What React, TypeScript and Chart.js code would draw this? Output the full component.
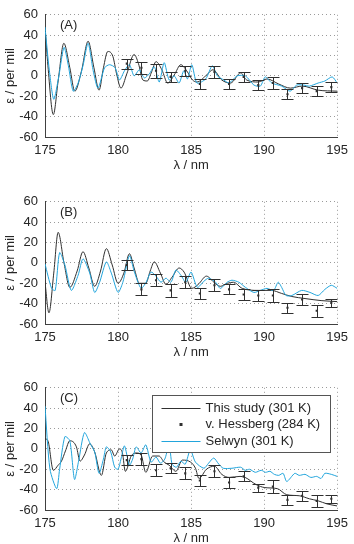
import React, { useEffect, useRef } from "react";
import { Chart, registerables } from "chart.js";

Chart.register(...registerables);

const FONT = "'Liberation Sans', Arial, Helvetica, sans-serif";
const INK = "#262626";
const STUDY_COLOR = "#303030";
const SELWYN_COLOR = "#22a5dc";
const GRID_COLOR = "#9a9a9a";

const X_TICKS = [175, 180, 185, 190, 195];
const Y_TICKS = [-60, -40, -20, 0, 20, 40, 60];
const X_TITLE = "λ / nm";
const Y_TITLE = "ε / per mil";
const LEGEND_LABELS = ["This study (301 K)", "v. Hessberg (284 K)", "Selwyn (301 K)"];
const PANEL_LABELS = ["(A)", "(B)", "(C)"];

// v. Hessberg wavelengths (shared by all panels)
const hessX = [180.6, 181.6, 182.6, 183.6, 184.6, 185.6, 186.6, 187.6, 188.6, 189.6, 190.6, 191.6, 192.6, 193.6, 194.6];

// ---------- Panel A ----------
const aStudyX = [175, 175.2, 175.57, 175.9, 176.29, 176.7, 177.04, 177.5, 177.95, 178.35, 178.7, 179.0, 179.3, 179.65, 179.9, 180.2, 180.6, 181.1, 181.4, 181.7, 182.0, 182.3, 182.6, 183.0, 183.4, 183.85, 184.3, 184.7, 185.1, 185.4, 186.0, 186.5, 187.1, 187.7, 188.4, 188.8, 189.6, 190.2, 191.0, 191.8, 192.6, 193.7, 195];
const aStudyY = [48, 10, -38, -5, 32, 8, -15, 5, 34, 8, -14, 8, 24, 19, 2, -12, 2, 21, 12, -4, -5, 4, 14, 6, -7, 1, 11, 5, -4, -6, 0, 6, -4, -7, 3, -4, -6, -3, -8, -12, -10, -14, -15];
const aSelX = [175, 175.3, 175.6, 175.95, 176.3, 176.6, 176.93, 177.27, 177.6, 177.95, 178.3, 178.63, 179.08, 179.42, 179.8, 180.1, 180.44, 180.78, 181.1, 181.46, 181.8, 182.14, 182.48, 182.82, 183.16, 183.5, 183.84, 184.18, 184.5, 184.75, 185.05, 185.4, 186.0, 186.45, 186.8, 187.24, 187.6, 188.15, 188.72, 189.3, 189.74, 190.08, 190.53, 191.2, 191.78, 192.23, 192.7, 193.1, 193.7, 194.16, 194.66, 195];
const aSelY = [48, 5, -23, 0, 28, 10, -15, -7, 10, 32, 5, -12, 8, 11, 8, -4, 5, 11, 0, 6, -2, 2, 9, -6, 13, -4, 0, -7, 5, -3, 11, -7, -3, 10, 0, -4, -7, 0, 0, -9, -10, -1, -7, -10, -15, -9, -9, -10, -7, -5, -1, -7];
const aHessY = [12, 8, 5, -1, 5, -8, 4, -8, -1, -9, -7, -18, -12, -15, -11];
const aHessErr = [5, 6, 7, 5, 5, 5, 6, 5, 5, 5, 6, 5, 5, 5, 5];

// ---------- Panel B ----------
const bStudyX = [175, 175.27, 175.6, 175.9, 176.3, 176.7, 177.2, 177.6, 178.0, 178.4, 178.8, 179.2, 179.6, 180.0, 180.4, 180.78, 181.1, 181.46, 181.9, 182.2, 182.48, 182.9, 183.28, 183.7, 184.18, 184.52, 185.05, 185.5, 186.05, 186.56, 187.0, 187.5, 187.9, 188.5, 189.6, 190.5, 191.2, 191.9, 192.8, 193.9, 195];
const bStudyY = [-19, -49, -10, 30, 0, -24, -8, 11, -5, -23, -8, 14, -2, -20, -10, 9, -5, -20, -20, -8, 1, -10, -21, -14, -5, -9, -25, -21, -13, -19, -23, -20, -19, -25, -27, -27, -30, -33, -35, -37, -38];
const bSelX = [175, 175.45, 175.7, 176.0, 176.36, 176.8, 177.27, 177.6, 178.06, 178.4, 178.74, 179.2, 179.54, 180.0, 180.33, 180.78, 181.12, 181.58, 181.92, 182.26, 182.6, 182.94, 183.28, 183.62, 183.96, 184.3, 184.64, 185.0, 185.43, 185.88, 186.2, 186.68, 187.0, 187.47, 187.8, 188.27, 188.72, 189.3, 189.74, 190.2, 190.65, 190.96, 191.2, 191.5, 191.9, 192.57, 193.14, 193.7, 194.16, 194.6, 195];
const bSelY = [-1, -25, -27, 10, -2, -27, -12, 4, -10, -29, -19, 1, -10, -29, -19, 7, -9, -25, -19, -9, -13, -19, -15, -19, -7, -12, -19, -9, -24, -18, -15, -19, -25, -19, -17, -19, -24, -29, -27, -25, -27, -19, -24, -32, -32, -27, -29, -32, -26, -22, -25];
const bHessY = [-2, -26, -17, -27, -19, -30, -22, -26, -31, -32, -32, -44, -36, -47, -39];
const bHessErr = [5, 6, 6, 6, 6, 5, 6, 5, 5, 5, 6, 5, 5, 6, 4];

// ---------- Panel C ----------
const cStudyX = [175, 175.2, 175.57, 175.9, 176.13, 176.4, 176.7, 177.15, 177.4, 177.7, 178.06, 178.4, 178.86, 179.2, 179.54, 179.77, 180.1, 180.3, 180.5, 180.9, 181.24, 181.58, 181.9, 182.37, 182.8, 183.16, 183.5, 183.96, 184.4, 184.97, 185.3, 185.54, 186.05, 186.6, 187.1, 187.6, 188.35, 188.7, 189.45, 190.05, 190.9, 191.55, 192.4, 193.1, 193.7, 194.3, 195];
const cStudyY = [10, 8, -21, -16, -12, -2, 8, 2, -12, -6, 5, -3, -26, -4, -1, -7, 0, -4, -22, -7, -4, -6, -23, -7, -7, -13, -16, -22, -11, -13, -19, -29, -20, -17, -25, -28, -27, -28, -35, -38, -39, -45, -46, -49, -51, -54, -56];
const cSelX = [175, 175.34, 175.8, 176.0, 176.36, 176.7, 177.02, 177.3, 177.7, 178.1, 178.4, 178.7, 179.0, 179.2, 179.5, 179.77, 180.0, 180.2, 180.44, 180.78, 181.0, 181.24, 181.58, 181.9, 182.26, 182.6, 182.9, 183.2, 183.5, 183.7, 184.0, 184.3, 184.6, 184.95, 185.3, 185.88, 186.2, 186.55, 186.9, 187.2, 187.8, 188.4, 188.7, 189.0, 189.4, 189.8, 190.1, 190.4, 190.7, 191.0, 191.3, 191.55, 192.1, 192.4, 192.8, 193.2, 193.6, 193.9, 194.16, 194.6, 195];
const cSelY = [42, -20, -39, -20, 12, 8, -30, -12, 16, 5, -3, -24, -10, 2, -3, -18, -20, -10, 3, -16, -10, 2, -4, 4, -13, -8, -14, -10, 4, -15, -18, -12, -15, -1, -13, -19, -14, -9, -15, -19, -19, -18, -21, -20, -23, -21, -23, -22, -25, -26, -24, -32, -24, -26, -25, -28, -27, -29, -24, -25, -27];
const cHessY = [-11, -10, -21, -19, -24, -31, -22, -33, -27, -38, -37, -50, -46, -51, -49];
const cHessErr = [5, 6, 6, 5, 6, 5, 6, 5, 5, 4, 6, 5, 5, 6, 4];

const toPoints = (xs: number[], ys: number[]) => xs.map((x, i) => ({ x, y: ys[i] }));

type PanelProps = {
  label: string;
  studyX: number[];
  studyY: number[];
  selX: number[];
  selY: number[];
  hessY: number[];
  hessErr: number[];
  showLegend: boolean;
  top: number;
};

function Panel(props: PanelProps) {
  const ref = useRef<HTMLCanvasElement | null>(null);
  useEffect(() => {
    const { label, studyX, studyY, selX, selY, hessY, hessErr, showLegend } = props;

    const errorBars = {
      id: "errorBars",
      afterDatasetsDraw(chart: any) {
        const { ctx, scales } = chart;
        const xs = scales.x;
        const ys = scales.y;
        ctx.save();
        ctx.strokeStyle = STUDY_COLOR;
        ctx.lineWidth = 1;
        hessX.forEach((hx, i) => {
          const px = Math.round(xs.getPixelForValue(hx)) + 0.5;
          const pt = Math.round(ys.getPixelForValue(hessY[i] + hessErr[i])) + 0.5;
          const pb = Math.round(ys.getPixelForValue(hessY[i] - hessErr[i])) + 0.5;
          ctx.beginPath();
          ctx.moveTo(px, pt);
          ctx.lineTo(px, pb);
          ctx.moveTo(px - 6, pt);
          ctx.lineTo(px + 6, pt);
          ctx.moveTo(px - 6, pb);
          ctx.lineTo(px + 6, pb);
          ctx.stroke();
        });
        ctx.restore();
      },
    };

    const panelLabel = {
      id: "panelLabel",
      afterDraw(chart: any) {
        const { ctx, chartArea } = chart;
        ctx.save();
        ctx.font = `13px ${FONT}`;
        ctx.fillStyle = INK;
        ctx.textBaseline = "middle";
        ctx.textAlign = "left";
        ctx.fillText(label, chartArea.left + 15, chartArea.top + 10.5);
        ctx.restore();
      },
    };

    const legendBox = {
      id: "legendBox",
      afterDraw(chart: any) {
        if (!showLegend) return;
        const { ctx, chartArea } = chart;
        const w = 178;
        const h = 57;
        const bx = Math.round(chartArea.right - 7 - w) + 0.5;
        const by = Math.round(chartArea.top + 7) + 0.5;
        ctx.save();
        ctx.fillStyle = "#ffffff";
        ctx.fillRect(bx, by, w, h);
        ctx.strokeStyle = "#555555";
        ctx.lineWidth = 1;
        ctx.strokeRect(bx, by, w, h);
        const rows = [12, 28, 45];
        const ds = chart.data.datasets;
        ctx.font = `13px ${FONT}`;
        ctx.textBaseline = "middle";
        ctx.textAlign = "left";
        rows.forEach((ry, i) => {
          const y = Math.round(by + ry) + 0.5;
          const d = ds[i];
          if (i === 1) {
            ctx.fillStyle = STUDY_COLOR;
            ctx.fillRect(bx + 27, y - 1.5, 3, 3);
          } else {
            ctx.strokeStyle = d.borderColor;
            ctx.beginPath();
            ctx.moveTo(bx + 9, y);
            ctx.lineTo(bx + 48, y);
            ctx.stroke();
          }
          ctx.fillStyle = INK;
          ctx.fillText(d.label, bx + 53, y);
        });
        ctx.restore();
      },
    };

    const font = { family: FONT, size: 13 };

    const chart = new Chart(ref.current as HTMLCanvasElement, {
      type: "line",
      data: {
        datasets: [
          {
            label: LEGEND_LABELS[0],
            data: toPoints(studyX, studyY),
            borderColor: STUDY_COLOR,
            borderWidth: 1,
            pointRadius: 0,
            cubicInterpolationMode: "monotone",
            order: 2,
          },
          {
            label: LEGEND_LABELS[1],
            data: toPoints(hessX, hessY),
            showLine: false,
            pointStyle: "rect",
            pointRadius: 1.5,
            pointBorderWidth: 0,
            pointBackgroundColor: STUDY_COLOR,
            borderColor: STUDY_COLOR,
            order: 0,
          },
          {
            label: LEGEND_LABELS[2],
            data: toPoints(selX, selY),
            borderColor: SELWYN_COLOR,
            borderWidth: 1,
            pointRadius: 0,
            tension: 0.25,
            order: 1,
          },
        ],
      } as any,
      options: {
        responsive: false,
        animation: false,
        events: [],
        layout: { padding: { top: 0, right: 15, left: 0, bottom: 0 } },
        plugins: {
          legend: { display: false },
          tooltip: { enabled: false },
        },
        scales: {
          x: {
            type: "linear",
            min: 175,
            max: 195,
            afterBuildTicks: (s: any) => {
              s.ticks = X_TICKS.map((v) => ({ value: v }));
            },
            afterFit: (s: any) => {
              s.height = 43;
            },
            ticks: { font, color: INK, padding: 6, maxRotation: 0, autoSkip: false },
            grid: { color: GRID_COLOR, drawTicks: false, lineWidth: 1 },
            border: { color: "#404040", dash: [1, 3], width: 1 },
            title: { display: true, text: X_TITLE, font, color: INK, padding: { top: 0, bottom: 7 } },
          },
          y: {
            type: "linear",
            min: -60,
            max: 60,
            afterBuildTicks: (s: any) => {
              s.ticks = Y_TICKS.map((v) => ({ value: v }));
            },
            afterFit: (s: any) => {
              s.width = 45;
            },
            ticks: { font, color: INK, padding: 7, autoSkip: false },
            grid: { color: GRID_COLOR, drawTicks: false, lineWidth: 1 },
            border: { color: "#404040", dash: [1, 3], width: 1 },
            title: { display: true, text: Y_TITLE, font, color: INK, padding: { top: 3, bottom: 0 } },
          },
        },
      } as any,
      plugins: [errorBars, panelLabel, legendBox],
    });
    return () => chart.destroy();
  }, []);

  return (
    <canvas
      ref={ref}
      width={354}
      height={180}
      style={{ position: "absolute", left: 0, top: props.top, width: 354, height: 180, display: "block" }}
    />
  );
}

export default function App() {
  return (
    <div
      style={{
        position: "absolute",
        left: 0,
        top: 0,
        width: 354,
        height: 544,
        overflow: "hidden",
        background: "#ffffff",
      }}
    >
      <Panel label={PANEL_LABELS[0]} studyX={aStudyX} studyY={aStudyY} selX={aSelX} selY={aSelY} hessY={aHessY} hessErr={aHessErr} showLegend={false} top={0} />
      <Panel label={PANEL_LABELS[1]} studyX={bStudyX} studyY={bStudyY} selX={bSelX} selY={bSelY} hessY={bHessY} hessErr={bHessErr} showLegend={false} top={187} />
      <Panel label={PANEL_LABELS[2]} studyX={cStudyX} studyY={cStudyY} selX={cSelX} selY={cSelY} hessY={cHessY} hessErr={cHessErr} showLegend={true} top={373} />
    </div>
  );
}
